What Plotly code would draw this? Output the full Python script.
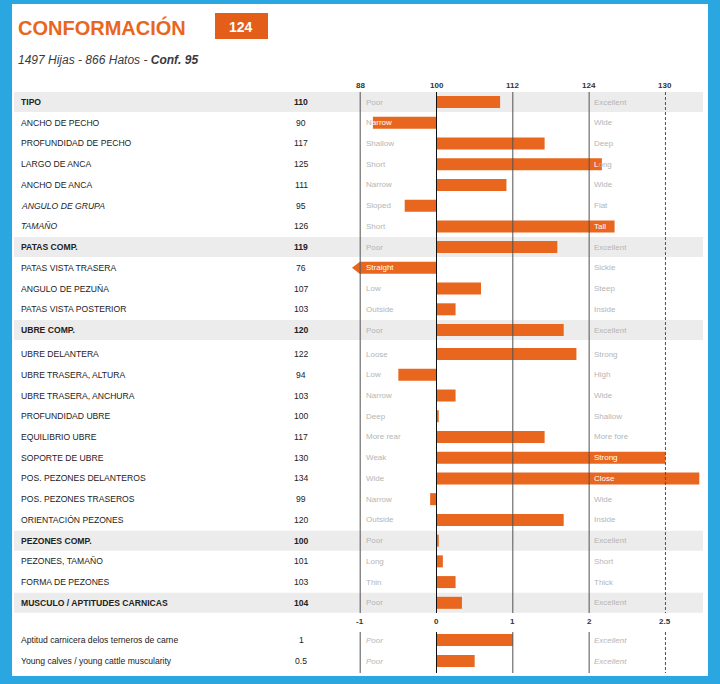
import plotly.graph_objects as go

# ---------------- data ----------------
traits = [
    "TIPO", "ANCHO DE PECHO", "PROFUNDIDAD DE PECHO", "LARGO DE ANCA", "ANCHO DE ANCA",
    "ANGULO DE GRUPA", "TAMAÑO", "PATAS COMP.", "PATAS VISTA TRASERA", "ANGULO DE PEZUÑA",
    "PATAS VISTA POSTERIOR", "UBRE COMP.", "UBRE DELANTERA", "UBRE TRASERA, ALTURA",
    "UBRE TRASERA, ANCHURA", "PROFUNDIDAD UBRE", "EQUILIBRIO UBRE", "SOPORTE DE UBRE",
    "POS. PEZONES DELANTEROS", "POS. PEZONES TRASEROS", "ORIENTACIÓN PEZONES",
    "PEZONES COMP.", "PEZONES, TAMAÑO", "FORMA DE PEZONES", "MUSCULO / APTITUDES CARNICAS",
]
values = [110, 90, 117, 125, 111, 95, 126, 119, 76, 107, 103, 120,
          122, 94, 103, 100, 117, 130, 134, 99, 120, 100, 101, 103, 104]
low_labels = ["Poor", "Narrow", "Shallow", "Short", "Narrow", "Sloped", "Short", "Poor",
              "Straight", "Low", "Outside", "Poor", "Loose", "Low", "Narrow", "Deep",
              "More rear", "Weak", "Wide", "Narrow", "Outside", "Poor", "Long", "Thin", "Poor"]
high_labels = ["Excellent", "Wide", "Deep", "Long", "Wide", "Flat", "Tall", "Excellent",
               "Sickle", "Steep", "Inside", "Excellent", "Strong", "High", "Wide", "Shallow",
               "More fore", "Strong", "Close", "Wide", "Inside", "Excellent", "Short", "Thick",
               "Excellent"]
bold_traits = ["TIPO", "PATAS COMP.", "UBRE COMP.", "PEZONES COMP.", "MUSCULO / APTITUDES CARNICAS"]
italic_traits = ["ANGULO DE GRUPA", "TAMAÑO"]

beef_traits = ["Aptitud carnicera delos terneros de carne", "Young calves / young cattle muscularity"]
beef_values = [1, 0.5]
beef_value_text = ["1", "0.5"]
beef_low = ["Poor", "Poor"]
beef_high = ["Excellent", "Excellent"]

top_ticks = [88, 100, 112, 124, 130]
bottom_ticks = [-1, 0, 1, 2, 2.5]
bottom_tick_text = ["-1", "0", "1", "2", "2.5"]
SD_POINTS = 12

title_text = "CONFORMACIÓN"
score_text = "124"
subtitle = "1497 Hijas - 866 Hatos - "
subtitle_bold = "Conf. 95"

# ---------------- style / layout ----------------
W, H = 720, 684
PX = 6.36          # pixels per point
X100 = 436.5       # pixel of 100
ORANGE = "#E8661D"
BOX_ORANGE = "#E35E18"
BLUE = "#2AA7E0"
BAND = "#ECECEC"
DESC = "#B5B5B5"
FONT = "Liberation Sans, Arial, sans-serif"
CHAR_W = 5.5


def disp(v):
    """piecewise scale used by the chart (wider above 124)."""
    if v <= 124:
        return v
    if v <= 130:
        return 124 + 2 * (v - 124)
    return 136 + (v - 130) * 1.33


def to_px(d):
    return X100 + (d - 100) * PX


def paper_x(px):
    return px / W


def row_y(i):
    return 102 + 20.73 * i + (3.3 if i >= 12 else 0)


def span(txt, col):
    return '<span style="color:%s">%s</span>' % (col, txt) if txt else ""


rows = [row_y(i) for i in range(len(traits))]
beef_rows = [640, 661]
CLIP = disp(top_ticks[0])

fig = go.Figure()
shapes = []
ann = []

# frame
shapes += [
    dict(type="rect", xref="paper", yref="y", x0=0, x1=paper_x(12), y0=0, y1=H, fillcolor=BLUE, line_width=0, layer="above"),
    dict(type="rect", xref="paper", yref="y", x0=paper_x(708), x1=1, y0=0, y1=H, fillcolor=BLUE, line_width=0, layer="above"),
    dict(type="rect", xref="paper", yref="y", x0=0, x1=1, y0=0, y1=4, fillcolor=BLUE, line_width=0, layer="above"),
    dict(type="rect", xref="paper", yref="y", x0=0, x1=1, y0=676, y1=H, fillcolor=BLUE, line_width=0, layer="above"),
]

# bands for bold rows
for t, y in zip(traits, rows):
    if t in bold_traits:
        shapes.append(dict(type="rect", xref="paper", yref="y", x0=paper_x(14), x1=paper_x(703),
                           y0=y - 10, y1=y + 10, fillcolor=BAND, line_width=0, layer="below"))

# vertical reference lines
for k, t in enumerate(top_ticks):
    dash = "3px,2px" if k == len(top_ticks) - 1 else "solid"
    col = "#111111" if t == 100 else "#505050"
    for (y0, y1) in [(92, 613), (632, 673)]:
        shapes.append(dict(type="line", xref="x", yref="y", x0=disp(t), x1=disp(t), y0=y0, y1=y1,
                           line=dict(color=col, width=1, dash=dash), layer="above"))

# bars
bar_len = []
for v in values:
    d = max(disp(v), CLIP)
    L = d - 100
    if v == 100:
        L = 0.35
    bar_len.append(L)
fig.add_trace(go.Bar(orientation="h", y=rows, x=bar_len, base=100, width=12,
                     marker=dict(color=ORANGE, line_width=0), hoverinfo="skip"))

beef_len = [disp(100 + SD_POINTS * s) - 100 for s in beef_values]
fig.add_trace(go.Bar(orientation="h", y=beef_rows, x=beef_len, base=100, width=12,
                     marker=dict(color=ORANGE, line_width=0), hoverinfo="skip"))

# arrows for clipped bars
arr_x, arr_y = [], []
for v, y in zip(values, rows):
    if disp(v) < CLIP:
        arr_x.append(CLIP - 2.7 / PX)
        arr_y.append(y)
fig.add_trace(go.Scatter(x=arr_x, y=arr_y, mode="markers",
                         marker=dict(symbol="triangle-left", size=11, color=ORANGE, line_width=0),
                         hoverinfo="skip"))

# left column texts
for t, v, y in zip(traits, values, rows):
    txt = t
    if t in bold_traits:
        txt = "<b>%s</b>" % t
    if t in italic_traits:
        txt = "<i>%s</i>" % t
    ann.append(dict(xref="paper", yref="y", x=paper_x(19), y=y, text=txt, xanchor="left", yanchor="middle",
                    showarrow=False, font=dict(family=FONT, size=8.6, color="#222222")))
    vt = "<b>%d</b>" % v if t in bold_traits else str(v)
    ann.append(dict(xref="paper", yref="y", x=paper_x(301), y=y, text=vt, xanchor="center", yanchor="middle",
                    showarrow=False, font=dict(family=FONT, size=8.6, color="#222222")))

# descriptor labels (white where the bar runs under them)
LEFT_PX, RIGHT_PX = 366, 594
for v, lo, hi, y in zip(values, low_labels, high_labels, rows):
    d = max(disp(v), CLIP)
    if d < 100:
        n_free = max(0, int(round((to_px(d) - LEFT_PX) / CHAR_W)))
        lo_txt = span(lo[:n_free], DESC) + span(lo[n_free:], "white")
    else:
        lo_txt = span(lo, DESC)
    if d > 100:
        n_cov = max(0, int(round((to_px(d) - RIGHT_PX) / CHAR_W)))
        hi_txt = span(hi[:n_cov], "white") + span(hi[n_cov:], DESC)
    else:
        hi_txt = span(hi, DESC)
    ann.append(dict(xref="paper", yref="y", x=paper_x(LEFT_PX - 2), y=y, text=lo_txt, xanchor="left",
                    yanchor="middle", showarrow=False, font=dict(family=FONT, size=8, color=DESC)))
    ann.append(dict(xref="paper", yref="y", x=paper_x(RIGHT_PX - 2), y=y, text=hi_txt, xanchor="left",
                    yanchor="middle", showarrow=False, font=dict(family=FONT, size=8, color=DESC)))

for t, vt, lo, hi, y in zip(beef_traits, beef_value_text, beef_low, beef_high, beef_rows):
    ann.append(dict(xref="paper", yref="y", x=paper_x(19), y=y, text=t, xanchor="left", yanchor="middle",
                    showarrow=False, font=dict(family=FONT, size=8.6, color="#222222")))
    ann.append(dict(xref="paper", yref="y", x=paper_x(301), y=y, text=vt, xanchor="center", yanchor="middle",
                    showarrow=False, font=dict(family=FONT, size=8.6, color="#222222")))
    ann.append(dict(xref="paper", yref="y", x=paper_x(LEFT_PX - 2), y=y, text="<i>%s</i>" % lo, xanchor="left",
                    yanchor="middle", showarrow=False, font=dict(family=FONT, size=8, color=DESC)))
    ann.append(dict(xref="paper", yref="y", x=paper_x(RIGHT_PX - 2), y=y, text="<i>%s</i>" % hi, xanchor="left",
                    yanchor="middle", showarrow=False, font=dict(family=FONT, size=8, color=DESC)))

# tick labels
for t in top_ticks:
    ann.append(dict(xref="x", yref="y", x=disp(t), y=85, text="<b>%s</b>" % t, xanchor="center", yanchor="middle",
                    showarrow=False, font=dict(family=FONT, size=8, color="#333333")))
for s, st in zip(bottom_ticks, bottom_tick_text):
    ann.append(dict(xref="x", yref="y", x=disp(100 + SD_POINTS * s), y=621, text="<b>%s</b>" % st,
                    xanchor="center", yanchor="middle", showarrow=False,
                    font=dict(family=FONT, size=8, color="#333333")))

# title block
ann.append(dict(xref="paper", yref="y", x=paper_x(16), y=27, text="<b>%s</b>" % title_text, xanchor="left",
                yanchor="middle", showarrow=False, font=dict(family=FONT, size=20, color=ORANGE)))
shapes.append(dict(type="rect", xref="paper", yref="y", x0=paper_x(215), x1=paper_x(268), y0=13, y1=39,
                   fillcolor=BOX_ORANGE, line_width=0, layer="below"))
ann.append(dict(xref="paper", yref="y", x=paper_x(241.5), y=26.5, text="<b>%s</b>" % score_text, xanchor="center",
                yanchor="middle", showarrow=False, font=dict(family=FONT, size=14, color="white")))
ann.append(dict(xref="paper", yref="y", x=paper_x(16), y=60, text="<i>%s<b>%s</b></i>" % (subtitle, subtitle_bold),
                xanchor="left", yanchor="middle", showarrow=False, font=dict(family=FONT, size=12, color="#3A3A3A")))

fig.update_layout(
    width=W, height=H, margin=dict(l=0, r=0, t=0, b=0),
    paper_bgcolor="white", plot_bgcolor="white", showlegend=False,
    xaxis=dict(visible=False, range=[100 - X100 / PX, 100 + (W - X100) / PX], fixedrange=True),
    yaxis=dict(visible=False, range=[H, 0], fixedrange=True),
    shapes=shapes, annotations=ann, barmode="overlay",
)

fig.write_html("out.html", config={"displayModeBar": False},
               post_script="document.body.style.margin='0';document.body.style.padding='0';"
                           "document.body.style.overflow='hidden';")
